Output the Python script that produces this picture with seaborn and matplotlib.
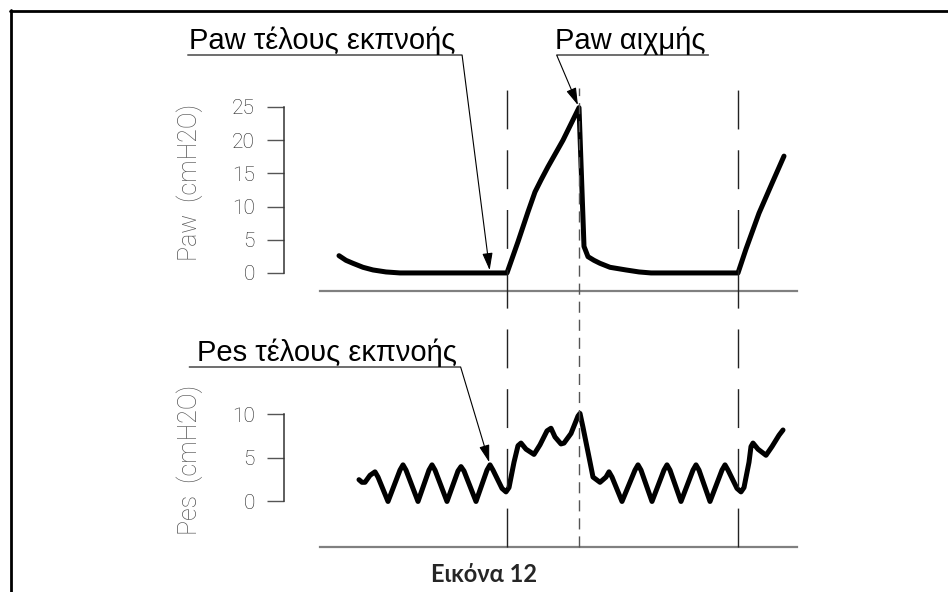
import matplotlib
matplotlib.use('Agg')
import matplotlib.pyplot as plt
from matplotlib.lines import Line2D
import seaborn as sns

# Paw trace (time in s, pressure in cmH2O)
paw_t = [0.55, 0.62, 0.69, 0.79, 0.89, 1.02, 1.16, 2.06, 2.23, 2.34, 2.44, 2.51, 2.57, 2.64,
         2.79, 2.95, 3.00, 3.04, 3.10, 3.16, 3.26, 3.42, 3.55, 3.67, 4.54, 4.62, 4.75, 4.88, 5.00]
paw_v = [2.6, 1.9, 1.45, 0.85, 0.45, 0.15, 0.0, 0.0, 0.0, 4.7, 9.2, 12.2, 14.0, 16.0,
         20.0, 24.9, 4.0, 2.45, 1.9, 1.45, 0.85, 0.45, 0.15, 0.0, 0.0, 3.6, 9.0, 13.5, 17.6]

# Pes trace
pes_t = [0.75, 0.78, 0.81, 0.86, 0.91, 0.94, 1.04, 1.16, 1.19, 1.22, 1.34, 1.45, 1.48, 1.51,
         1.63, 1.74, 1.77, 1.80, 1.92, 2.03, 2.06, 2.09, 2.18, 2.22, 2.25, 2.30, 2.34, 2.37,
         2.42, 2.50, 2.56, 2.63, 2.67, 2.71, 2.77, 2.80, 2.87, 2.94, 2.96, 2.99, 3.05, 3.09,
         3.16, 3.22, 3.25, 3.28, 3.38, 3.51, 3.54, 3.57, 3.68, 3.80, 3.83, 3.86, 3.97, 4.09,
         4.12, 4.15, 4.26, 4.38, 4.41, 4.44, 4.53, 4.57, 4.60, 4.65, 4.67, 4.69, 4.74, 4.82,
         4.88, 4.95, 4.99]
pes_v = [2.5, 2.2, 2.2, 3.0, 3.4, 2.8, 0.0, 3.6, 4.2, 3.6, 0.0, 3.6, 4.2, 3.6,
         0.0, 3.5, 4.0, 3.5, 0.0, 3.6, 4.2, 3.6, 1.5, 1.1, 1.6, 4.5, 6.4, 6.7,
         6.0, 5.4, 6.5, 8.1, 8.4, 7.4, 6.6, 6.7, 7.8, 9.8, 10.1, 8.5, 5.1, 2.8,
         2.2, 2.8, 3.4, 2.8, 0.0, 3.6, 4.2, 3.6, 0.0, 3.6, 4.2, 3.6, 0.0, 3.6,
         4.2, 3.6, 0.0, 3.6, 4.2, 3.6, 1.5, 1.1, 1.6, 4.5, 6.3, 6.7, 6.0, 5.3,
         6.3, 7.6, 8.2]

breath_onsets = [2.23, 4.54]
peak_time = 2.95

paw_ticks = [0, 5, 10, 15, 20, 25]
pes_ticks = [0, 5, 10]

# annotated points
paw_end_exp = (2.06, 0.0)
paw_peak = (2.95, 24.9)
pes_end_exp = (2.06, 4.2)
pes_peak = (2.96, 10.1)

labels = {
    'paw_end': 'Paw τέλους εκπνοής',
    'paw_peak': 'Paw αιχμής',
    'pes_end': 'Pes τέλους εκπνοής',
    'pes_peak': 'Pes αιχμής',
}

sns.set_theme(style='white')
plt.rcParams['font.family'] = ['Liberation Sans', 'DejaVu Sans']

W, H = 948, 592
fig = plt.figure(figsize=(W / 100, H / 100), dpi=100)
fig.patch.set_facecolor('white')

x0, x1 = 284, 797
left, width = x0 / W, (x1 - x0) / W
xlim = (0, 5.13)
base_start = 0.36

ax_paw = fig.add_axes([left, 1 - 291 / H, width, (291 - 107) / H])
ax_pes = fig.add_axes([left, 1 - 547 / H, width, (547 - 414.3) / H], sharex=ax_paw)

panels = [
    (ax_paw, paw_t, paw_v, paw_ticks, (-2.72, 25), 'Paw  (cmH2O)', 0.59),
    (ax_pes, pes_t, pes_v, pes_ticks, (-5.22, 10), 'Pes  (cmH2O)', 0.655),
]
for ax, t, v, ticks, ylim, ylab, ly in panels:
    ax.patch.set_alpha(0)
    sns.lineplot(x=t, y=v, ax=ax, color='black', lw=3.6, sort=False, estimator=None,
                 solid_capstyle='round', solid_joinstyle='round', clip_on=False)
    ax.set_xlim(*xlim)
    ax.set_ylim(*ylim)
    ax.set_yticks(ticks)
    ax.set_xticks([])
    for s in ['top', 'right']:
        ax.spines[s].set_visible(False)
    ax.spines['left'].set_bounds(ticks[0], ticks[-1])
    ax.spines['left'].set_color('#333333')
    ax.spines['left'].set_linewidth(1.1)
    ax.spines['bottom'].set_bounds(base_start, xlim[1])
    ax.spines['bottom'].set_color('#808080')
    ax.spines['bottom'].set_linewidth(1.6)
    ax.tick_params(axis='y', direction='out', length=12, width=1.0, color='#555555',
                   labelsize=15, labelcolor='#222222', pad=9, left=True)
    for lab in ax.get_yticklabels():
        lab.set_fontfamily('Roboto')
        lab.set_fontweight('light')
    ax.set_ylabel(ylab, fontsize=18, color='#555555', family='Roboto', weight='light',
                  va='center')
    ax.yaxis.set_label_coords(-0.183, ly)
    ax.set_xlabel('')

# overlay for the vertical time markers
ax_over = fig.add_axes([left, 0, width, 1], sharex=ax_paw)
ax_over.axis('off')
ymin, ymax = 1 - 547 / H, 1 - 88 / H
for t in breath_onsets:
    ax_over.axvline(t, ymin=ymin, ymax=ymax, color='#222222', lw=1.0, dashes=(28, 15))
ax_over.axvline(peak_time, ymin=ymin, ymax=ymax, color='#555555', lw=1.0, dashes=(8, 5))

# callouts: underline + leader line ending in a small arrow
def callout(ax, text, xy, xytext, relx, angle):
    ax.annotate(text, xy=xy, xycoords='data', xytext=xytext, textcoords='figure fraction',
                ha='left', va='bottom', fontsize=21, color='black',
                arrowprops=dict(arrowstyle='-|>,head_length=0.5,head_width=0.15',
                                connectionstyle=f'angle,angleA=0,angleB={angle},rad=0',
                                relpos=(relx, 0), patchA=None, shrinkA=0, shrinkB=2,
                                lw=0.8, color='black'))

callout(ax_paw, labels['paw_end'], paw_end_exp, (189 / W, 1 - 55 / H), -0.005, -82.7)
callout(ax_paw, labels['paw_peak'], paw_peak, (555 / W, 1 - 55 / H), 1.02, -67)
callout(ax_pes, labels['pes_end'], pes_end_exp, (197 / W, 1 - 367 / H), -0.03, -73.3)
callout(ax_pes, labels['pes_peak'], pes_peak, (562 / W, 1 - 367 / H), 1.02, -68)

fig.text(484 / W, 1 - 575 / H, 'Εικόνα 12', ha='center', va='center', fontsize=17,
         weight='bold', family=['Lato', 'DejaVu Sans'])

# page frame (top and left edges)
fig.add_artist(Line2D([10 / W, 1], [1 - 11 / H, 1 - 11 / H], transform=fig.transFigure,
                      color='black', lw=2.0))
fig.add_artist(Line2D([11 / W, 11 / W], [0, 1 - 10 / H], transform=fig.transFigure,
                      color='black', lw=2.0))

fig.savefig('out.png', dpi=100, facecolor='white')
